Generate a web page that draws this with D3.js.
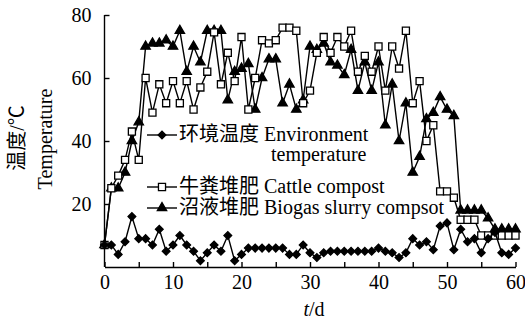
<!DOCTYPE html>
<html>
<head>
<meta charset="utf-8">
<script src="https://cdn.jsdelivr.net/npm/d3@7/dist/d3.min.js"></script>
<style>
  body { margin: 0; background: #fff; }
  svg text { font-family: 'Liberation Serif', 'Times New Roman', 'Noto Sans CJK SC', serif; fill: #000; }
</style>
</head>
<body>
<div id="chart"></div>
<script>
// days of the composting run
const days = [0, 1, 2, 3, 4, 5, 6, 7, 8, 9, 10, 11, 12, 13, 14, 15, 16, 17, 18, 19, 20,
  21, 22, 23, 24, 25, 26, 27, 28, 29, 30, 31, 32, 33, 34, 35, 36, 37, 38, 39, 40,
  41, 42, 43, 44, 45, 46, 47, 48, 49, 50, 51, 52, 53, 54, 55, 56, 57, 58, 59, 60];

// temperatures, °C
const envTemp = [7, 7, 4, 8, 16, 9, 9, 7, 12, 5, 7, 10, 7, 5, 2, 4.5, 7, 5, 10, 2,
  4, 6, 6, 6, 6, 6, 6, 4, 4, 7, 4.5, 3, 4.5, 5, 5, 5, 5, 5, 5, 5,
  6, 5, 4.5, 3, 4.5, 9, 7, 8, 5.5, 13, 14, 5.5, 12, 8, 9, 4.5, 9, 11, 4.5, 4, 6];
const cattleTemp = [7, 25, 29, 34, 43, 34, 60, 49, 58, 52, 59, 52, 59, 50, 57, 62, 74.5, 58, 68, 59,
  73, 50, 60, 72, 71, 72, 76, 76, 75, 52, 56, 68, 73, 68, 73, 70, 75, 62, 67, 62,
  70, 56, 70, 63, 75, 52, 59, 40, 45, 24, 24, 22, 15, 15, 15, 10, 10, 10, 10, 10, 10];
const biogasTemp = [7, 25, 25, 30, 40, 46, 70, 71, 71, 72, 70, 75, 62, 70, 65, 75, 75, 75, 53, 62,
  63, 64.5, 50, 60, 66, 66, 52, 58, 50, 53, 70, 69, 71, 65, 64, 61, 69, 56, 65, 56,
  65, 45, 58, 40, 52, 30, 35, 47, 49, 54, 50, 48, 18, 18, 18, 18, 15.5, 12, 12, 12, 12];

const xTicks = [0, 5, 10, 15, 20, 25, 30, 35, 40, 45, 50, 55, 60];
const yTicks = [20, 40, 60, 80];

const width = 525;
const height = 327;

const svg = d3.select('#chart')
  .append('svg')
  .attr('width', width)
  .attr('height', height);

const x = d3.scaleLinear().domain([0, 60]).range([104.5, 515.5]);
const y = d3.scaleLinear().domain([0, 80]).range([267, 15]);

// axes, ticks point inwards
const xAxis = svg.append('g')
  .attr('transform', `translate(0, ${y(0)})`)
  .call(d3.axisBottom(x)
    .tickValues(xTicks)
    .tickSizeInner(-5)
    .tickSizeOuter(0)
    .tickPadding(8)
    .tickFormat(d => d % 10 === 0 ? d : ''));

const yAxis = svg.append('g')
  .attr('transform', `translate(${x(0)}, 0)`)
  .call(d3.axisLeft(y)
    .tickValues(yTicks)
    .tickSizeInner(-5)
    .tickSizeOuter(0)
    .tickPadding(13));

[xAxis, yAxis].forEach(a => {
  a.selectAll('path, line').attr('stroke', '#000').attr('stroke-width', 1.4);
  a.selectAll('text').style('font-size', '20px');
});
// extend the y axis line to the top tick
yAxis.select('.domain').attr('d', `M0,${y(0)}V${y(80)}`);

// axis titles
svg.append('text')
  .attr('transform', `translate(${x(30) + 4}, 316)`)
  .attr('text-anchor', 'middle')
  .style('font-size', '20px')
  .html('<tspan font-style="italic">t</tspan>/d');

svg.append('text')
  .attr('transform', 'translate(24, 138) rotate(-90)')
  .attr('text-anchor', 'middle')
  .style('font-size', '20px')
  .text('温度/℃');

svg.append('text')
  .attr('transform', 'translate(52, 139) rotate(-90)')
  .attr('text-anchor', 'middle')
  .style('font-size', '20px')
  .text('Temperature');

// marker shapes
const diamond = d3.symbol(d3.symbolSquare, 30);
const square = d3.symbol(d3.symbolSquare, 50);
const triangle = d3.symbol(d3.symbolTriangle, 38);

const series = [
  {name: 'biogas', values: biogasTemp, shape: triangle, fill: '#000', rotate: 0},
  {name: 'cattle', values: cattleTemp, shape: square, fill: '#fff', rotate: 0},
  {name: 'env', values: envTemp, shape: diamond, fill: '#000', rotate: 45}
];

const line = d3.line()
  .x((d, i) => x(days[i]))
  .y(d => y(d));

series.forEach(s => {
  const g = svg.append('g').attr('class', s.name);
  g.append('path')
    .datum(s.values)
    .attr('d', line)
    .attr('fill', 'none')
    .attr('stroke', '#000')
    .attr('stroke-width', 1.4);
  g.selectAll('path.mark')
    .data(s.values)
    .enter()
    .append('path')
    .attr('class', 'mark')
    .attr('d', s.shape)
    .attr('transform', (d, i) => `translate(${x(days[i])}, ${y(d)}) rotate(${s.rotate})`)
    .attr('fill', s.fill)
    .attr('stroke', '#000')
    .attr('stroke-width', 1.3);
});

// legend
const legendItems = [
  {shape: diamond, fill: '#000', rotate: 45, y: 135, lines: ['环境温度 Environment', 'temperature']},
  {shape: square, fill: '#fff', rotate: 0, y: 187, lines: ['牛粪堆肥 Cattle compost']},
  {shape: triangle, fill: '#000', rotate: 0, y: 208, lines: ['沼液堆肥 Biogas slurry compsot']}
];

const legend = svg.append('g').attr('class', 'legend');
legendItems.forEach(item => {
  const g = legend.append('g').attr('transform', `translate(147, ${item.y})`);
  g.append('line')
    .attr('x1', 0).attr('x2', 30)
    .attr('stroke', '#000').attr('stroke-width', 1.4);
  g.append('path')
    .attr('d', item.shape)
    .attr('transform', `translate(15, 0) rotate(${item.rotate})`)
    .attr('fill', item.fill)
    .attr('stroke', '#000')
    .attr('stroke-width', 1.3);
  const t = g.append('text')
    .attr('x', 32)
    .attr('y', 6)
    .style('font-size', '20px');
  t.append('tspan').text(item.lines[0]);
  if (item.lines[1]) {
    t.append('tspan').attr('x', 124).attr('dy', 20).text(item.lines[1]);
  }
});
</script>
</body>
</html>
